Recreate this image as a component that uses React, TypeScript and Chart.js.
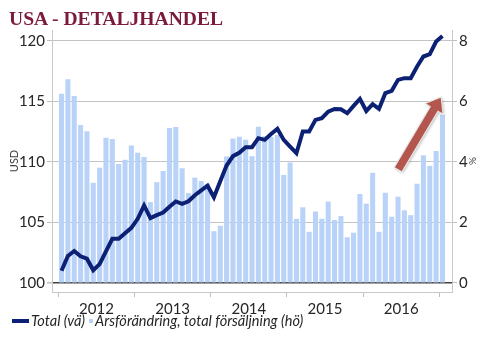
import React, { useEffect, useRef } from "react";
import { Chart, registerables } from "chart.js";

Chart.register(...registerables);

// Monthly categories: Dec 2011 (empty padding), Jan 2012 ... Jan 2017, Feb 2017 (empty padding)
const FIRST_YEAR = 2012;
const categories: string[] = Array.from({ length: 63 }, (_, k) => {
  const m = k - 1;
  const y = FIRST_YEAR + Math.floor(m / 12);
  const mm = (((m % 12) + 12) % 12) + 1;
  return `${y}-${String(mm).padStart(2, "0")}`;
});

const yearLabels = ["2012", "2013", "2014", "2015", "2016"];

// Total retail sales index (left axis, USD), Jan 2012 .. Jan 2017
const totalUSD = [
  101.0, 102.23, 102.64, 102.2, 102.0, 101.05, 101.55, 102.6, 103.65, 103.65, 104.1, 104.55,
  105.3, 106.4, 105.35, 105.6, 105.82, 106.3, 106.73, 106.53, 106.75, 107.25, 107.65, 108.03,
  107.08, 108.4, 109.7, 110.48, 110.75, 111.21, 111.21, 111.96, 111.82, 112.31, 112.73, 111.82,
  111.27, 110.72, 112.51, 112.51, 113.47, 113.61, 114.16, 114.38, 114.35, 114.02, 114.63, 115.21,
  114.21, 114.77, 114.38, 115.68, 115.87, 116.78, 116.92, 116.92, 117.88, 118.71, 118.9, 119.95,
  120.41,
];

// Year-over-year change, total sales (right axis, %)
const yoyPct = [
  6.25, 6.73, 6.18, 5.22, 5.01, 3.31, 3.81, 4.8, 4.76, 3.93, 4.07, 4.54,
  4.3, 4.16, 2.67, 3.33, 3.7, 5.12, 5.15, 3.79, 2.97, 3.48, 3.37, 3.28,
  1.71, 1.89, 4.18, 4.77, 4.83, 4.73, 4.19, 5.16, 4.85, 4.82, 4.89, 3.57,
  3.98, 2.12, 2.5, 1.69, 2.36, 2.12, 2.69, 2.08, 2.21, 1.51, 1.66, 2.94,
  2.62, 3.64, 1.69, 2.98, 2.19, 2.85, 2.4, 2.24, 3.28, 4.22, 3.87, 4.36,
  5.56,
];

// Trend arrow annotation in data space (month index, % value)
const arrowFrom = [53.0, 3.74];
const arrowTo = [59.8, 6.15];

const NAVY = "#0c2173";
const BAR_BLUE = "#b9d3f8";
const GRID = "#c4c4c4";
const TEXT = "#262626";
const FONT = "Lato, 'Open Sans', sans-serif";

const arrowPlugin = {
  id: "trendArrow",
  afterDatasetsDraw(chart: any) {
    const xs = chart.scales.x;
    const ys = chart.scales.y1;
    const x0 = xs.getPixelForValue(arrowFrom[0] + 1);
    const y0 = ys.getPixelForValue(arrowFrom[1]);
    const x1 = xs.getPixelForValue(arrowTo[0] + 1);
    const y1 = ys.getPixelForValue(arrowTo[1]);
    const L = Math.hypot(x1 - x0, y1 - y0);
    const ang = Math.atan2(y1 - y0, x1 - x0);
    const sw = 4.5, hw = 10.5, hl = 14;
    const ctx = chart.ctx;
    ctx.save();
    ctx.translate(x0, y0);
    ctx.rotate(ang);
    ctx.beginPath();
    ctx.moveTo(0, -sw);
    ctx.lineTo(L - hl, -sw);
    ctx.lineTo(L - hl, -hw);
    ctx.lineTo(L, 0);
    ctx.lineTo(L - hl, hw);
    ctx.lineTo(L - hl, sw);
    ctx.lineTo(0, sw);
    ctx.closePath();
    ctx.shadowColor = "rgba(0,0,0,0.3)";
    ctx.shadowBlur = 3;
    ctx.shadowOffsetX = 1;
    ctx.shadowOffsetY = 1;
    ctx.fillStyle = "#b3574e";
    ctx.fill();
    ctx.shadowColor = "transparent";
    ctx.lineWidth = 1.2;
    ctx.strokeStyle = "rgba(235,235,235,0.95)";
    ctx.stroke();
    ctx.restore();
  },
};

export default function App() {
  const ref = useRef<HTMLCanvasElement | null>(null);

  useEffect(() => {
    if (!ref.current) return;
    const chart = new Chart(ref.current, {
      type: "bar",
      data: {
        labels: categories,
        datasets: [
          {
            type: "line",
            label: "Total (vä)",
            data: [null, ...totalUSD, null],
            yAxisID: "y",
            borderColor: NAVY,
            backgroundColor: NAVY,
            borderWidth: 4,
            pointRadius: 0,
            tension: 0,
            order: 0,
          } as any,
          {
            type: "bar",
            label: "Årsförändring, total försäljning (hö)",
            data: [null, ...yoyPct, null],
            yAxisID: "y1",
            backgroundColor: BAR_BLUE,
            borderWidth: 0,
            barPercentage: 1,
            categoryPercentage: 0.8,
            order: 1,
          } as any,
        ],
      },
      options: {
        responsive: false,
        animation: false,
        devicePixelRatio: 1,
        layout: { padding: { top: 30, left: 0, right: 0, bottom: 0 } },
        plugins: {
          legend: { display: false },
          tooltip: { enabled: false },
          title: { display: false },
        },
        scales: {
          x: {
            type: "category",
            offset: true,
            afterFit: (s: any) => {
              s.height = 66;
            },
            grid: {
              offset: true,
              drawOnChartArea: false,
              drawTicks: true,
              tickLength: 5,
              color: (c: any) =>
                c.index !== undefined && (c.index - 1) % 12 === 0 ? "#bfbfbf" : "rgba(0,0,0,0)",
            },
            border: { display: true, color: "#c8c8c8" },
            ticks: {
              autoSkip: false,
              maxRotation: 0,
              minRotation: 0,
              padding: 3,
              labelOffset: -3.17,
              color: TEXT,
              font: { family: FONT, size: 15 },
              callback: (_v: any, index: number) =>
                (index - 1) % 12 === 6 ? yearLabels[Math.floor((index - 1) / 12)] ?? "" : "",
            },
          },
          y: {
            type: "linear",
            position: "left",
            min: 99.25,
            max: 120.9,
            afterFit: (s: any) => {
              s.width = 52;
            },
            ticks: {
              stepSize: 5,
              includeBounds: false,
              padding: 2,
              color: TEXT,
              font: { family: FONT, size: 15 },
            },
            grid: {
              color: (c: any) => (c.tick && c.tick.value === 100 ? "#404040" : GRID),
              lineWidth: (c: any) => (c.tick && c.tick.value === 100 ? 1.5 : 1),
              tickColor: "#bfbfbf",
              tickLength: 5,
            },
            border: { display: true, color: "#c8c8c8" },
            title: {
              display: true,
              text: "USD",
              color: "#404040",
              font: { family: FONT, size: 11 },
              padding: { top: 8, bottom: 0 },
            },
          },
          y1: {
            type: "linear",
            position: "right",
            min: -0.3,
            max: 8.36,
            afterFit: (s: any) => {
              s.width = 36;
            },
            ticks: {
              stepSize: 2,
              includeBounds: false,
              padding: 2,
              color: TEXT,
              font: { family: FONT, size: 15 },
            },
            grid: {
              drawOnChartArea: false,
              color: "#bfbfbf",
              tickLength: 5,
            },
            border: { display: true, color: "#c8c8c8" },
            title: {
              display: true,
              text: "%",
              color: "#404040",
              font: { family: FONT, size: 10 },
              padding: { top: 10, bottom: 0 },
            },
          },
        },
      } as any,
      plugins: [arrowPlugin],
    });
    return () => chart.destroy();
  }, []);

  return (
    <div
      style={{
        position: "absolute",
        left: 0,
        top: 0,
        width: 488,
        height: 358,
        background: "#ffffff",
        overflow: "hidden",
      }}
    >
      <canvas ref={ref} width={488} height={358} style={{ display: "block", width: 488, height: 358 }} />
      <div
        style={{
          position: "absolute",
          left: 9,
          top: 9,
          fontFamily: "'Liberation Serif', 'DejaVu Serif', serif",
          fontWeight: 700,
          fontSize: 19.6,
          lineHeight: "19px",
          color: "#7b1a3b",
          whiteSpace: "nowrap",
        }}
      >
        USA - DETALJHANDEL
      </div>
      <div
        style={{
          position: "absolute",
          left: 12,
          top: 312,
          display: "flex",
          alignItems: "center",
          fontFamily: FONT,
          fontStyle: "italic",
          fontSize: 14.5,
          lineHeight: "18px",
          color: TEXT,
          whiteSpace: "nowrap",
        }}
      >
        <span style={{ display: "inline-block", width: 17, height: 4, background: NAVY, marginRight: 2 }} />
        <span>Total (vä)</span>
        <span style={{ display: "inline-block", width: 4, height: 4, background: BAR_BLUE, margin: "0 2px 0 4px" }} />
        <span>Årsförändring, total försäljning (hö)</span>
      </div>
    </div>
  );
}
